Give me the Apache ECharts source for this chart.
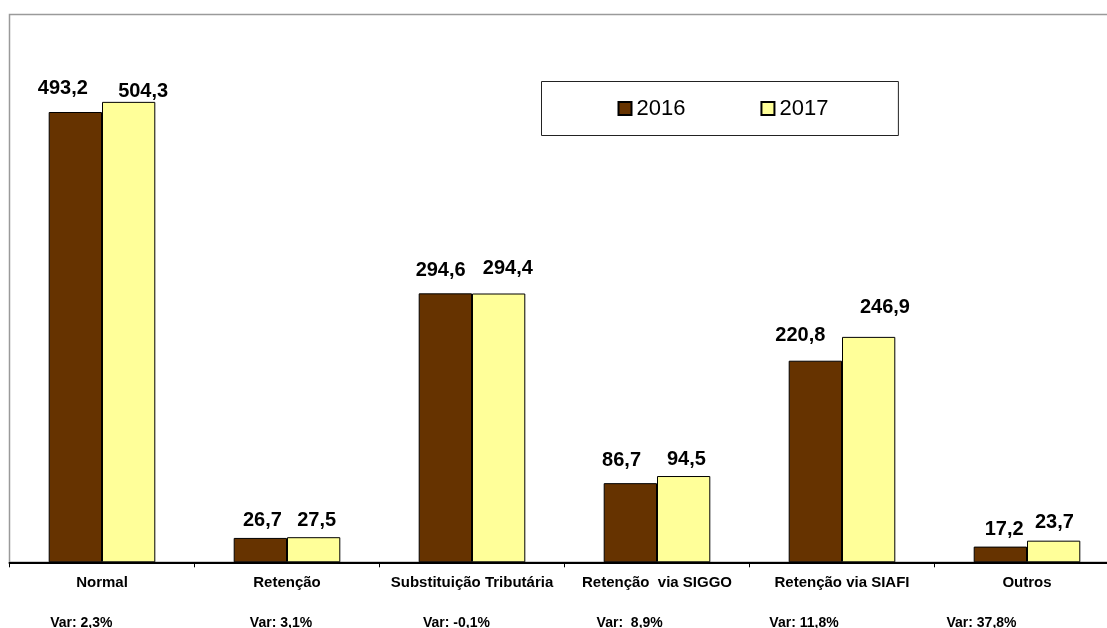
<!DOCTYPE html>
<html>
<head>
<meta charset="utf-8">
<script src="https://cdn.jsdelivr.net/npm/echarts@6/dist/echarts.min.js"></script>
<style>
html,body{margin:0;padding:0;background:#fff;}
#chart{width:1107px;height:628px;}
</style>
</head>
<body>
<div id="chart"></div>
<script>
// ---- data ----
const categories = ['Normal', 'Retenção', 'Substituição Tributária', 'Retenção  via SIGGO', 'Retenção via SIAFI', 'Outros'];
const values2016 = [493.2, 26.7, 294.6, 86.7, 220.8, 17.2];
const values2017 = [504.3, 27.5, 294.4, 94.5, 246.9, 23.7];
const varLabels = ['Var: 2,3%', 'Var: 3,1%', 'Var: -0,1%', 'Var:  8,9%', 'Var: 11,8%', 'Var: 37,8%'];
const seriesNames = ['2016', '2017'];

// ---- styling (label nudges, as in the original hand-placed labels) ----
const offs2016 = [[-12.5, -6.7], [2, 0], [-4.7, -5.4], [-8.8, -6], [-15, -8.4], [3.8, -0.4]];
const offs2017 = [[14.5, 6.6], [3, 0], [9.2, -8], [2.7, 0.3], [16.3, -12], [0.7, -0.8]];
const varShift = [-20.7, -6, -15.6, -27.3, -38, -45.5];

const FONT = '"Liberation Sans", Arial, sans-serif';
const fmt = v => v.toFixed(1).replace('.', ',');

function makeData(vals, offs) {
  return vals.map((v, i) => ({ value: v, label: { offset: offs[i] } }));
}

const chart = echarts.init(document.getElementById('chart'), null, { renderer: 'canvas' });
const labelCommon = {
  show: true,
  position: 'top',
  distance: 7,
  color: '#000',
  fontFamily: FONT,
  fontWeight: 'bold',
  fontSize: 20,
  formatter: p => fmt(p.value)
};

chart.setOption({
  backgroundColor: '#fff',
  animation: false,
  textStyle: { fontFamily: FONT },
  grid: {
    left: 9.5, top: 14.5, width: 1110, bottom: 65.7,
    outerBoundsMode: 'none',
    containLabel: false,
    show: true, borderColor: '#9a9a9a', borderWidth: 1.5, backgroundColor: 'transparent'
  },
  legend: {
    data: seriesNames,
    left: 541.5, top: 81.5,
    padding: [16, 70, 16, 76],
    itemGap: 75,
    itemWidth: 13, itemHeight: 13,
    borderColor: '#222', borderWidth: 1,
    backgroundColor: '#fff',
    textStyle: { fontSize: 22, color: '#000', fontFamily: FONT },
    icon: 'rect'
  },
  xAxis: [{
    type: 'category',
    data: categories,
    position: 'bottom',
    axisLine: { show: true, lineStyle: { color: '#000', width: 2 } },
    axisTick: { show: true, length: 5, lineStyle: { color: '#000', width: 1 } },
    axisLabel: { interval: 0, margin: 13, color: '#000', fontWeight: 'bold', fontSize: 15, fontFamily: FONT },
    splitLine: { show: false }
  }, {
    type: 'category',
    data: varLabels.map((t, i) => ({ value: t, textStyle: { padding: [0, -2 * varShift[i], 0, 0] } })),
    position: 'bottom',
    axisLine: { show: false },
    axisTick: { show: false },
    axisLabel: { interval: 0, margin: 54, color: '#000', fontWeight: 'bold', fontSize: 14, fontFamily: FONT },
    splitLine: { show: false }
  }],
  yAxis: {
    type: 'value', min: 0, max: 600,
    show: false,
    splitLine: { show: false }
  },
  series: [{
    name: seriesNames[0],
    type: 'bar',
    xAxisIndex: 0,
    barWidth: 53.3,
    barGap: '0%',
    itemStyle: { color: '#663300', borderColor: '#000', borderWidth: 1 },
    label: labelCommon,
    data: makeData(values2016, offs2016)
  }, {
    name: seriesNames[1],
    type: 'bar',
    xAxisIndex: 0,
    barWidth: 53.3,
    barGap: '0%',
    itemStyle: { color: '#FFFF99', borderColor: '#000', borderWidth: 1 },
    label: labelCommon,
    data: makeData(values2017, offs2017)
  }]
});
</script>
</body>
</html>
